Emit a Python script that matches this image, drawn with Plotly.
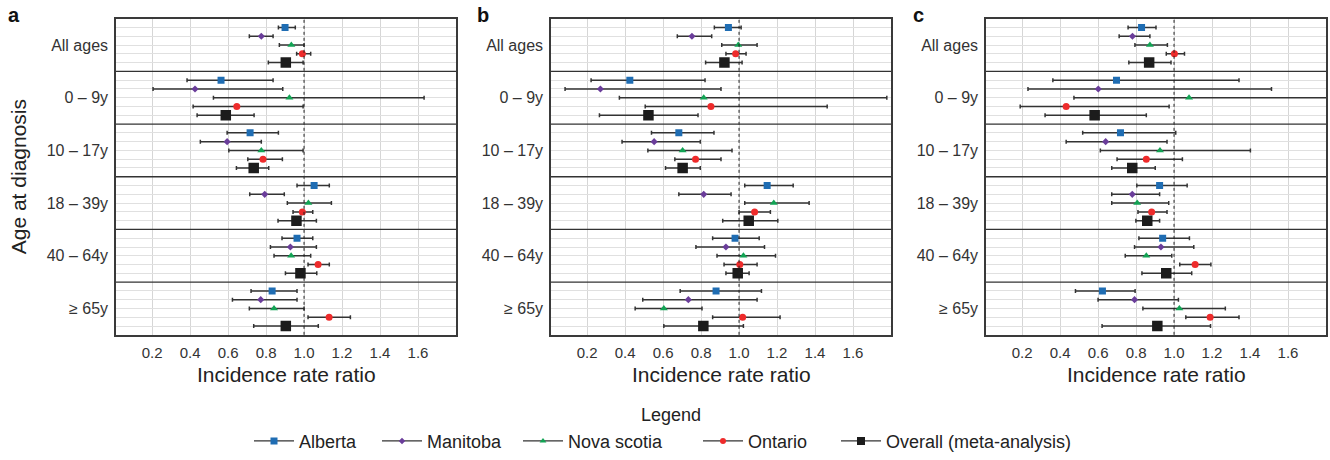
import plotly.graph_objects as go

GROUPS = ["All ages", "0 – 9y", "10 – 17y", "18 – 39y", "40 – 64y", "≥ 65y"]
SERIES = ["Alberta", "Manitoba", "Nova scotia", "Ontario", "Overall (meta-analysis)"]
X_TICKS = [0.2, 0.4, 0.6, 0.8, 1.0, 1.2, 1.4, 1.6]
PANELS = ["a", "b", "c"]

# rows = series (SERIES order), columns = age groups (GROUPS order)
A_EST = [[0.900, 0.563, 0.716, 1.053, 0.963, 0.832],
         [0.775, 0.426, 0.595, 0.793, 0.928, 0.772],
         [0.933, 0.923, 0.775, 1.023, 0.932, 0.842],
         [0.991, 0.646, 0.784, 0.991, 1.074, 1.132],
         [0.904, 0.588, 0.735, 0.960, 0.981, 0.904]]
A_LO = [[0.865, 0.384, 0.595, 0.963, 0.884, 0.721],
        [0.712, 0.205, 0.454, 0.714, 0.823, 0.623],
        [0.870, 0.523, 0.604, 0.912, 0.842, 0.712],
        [0.961, 0.416, 0.704, 0.942, 1.021, 1.021],
        [0.812, 0.437, 0.644, 0.863, 0.902, 0.735]]
A_HI = [[0.954, 0.837, 0.865, 1.133, 1.046, 0.963],
        [0.837, 0.888, 0.775, 0.896, 1.065, 0.963],
        [1.000, 1.632, 0.995, 1.144, 1.035, 1.000],
        [1.035, 0.995, 0.886, 1.046, 1.133, 1.244],
        [0.995, 0.737, 0.814, 1.065, 1.067, 1.075]]

B_EST = [[0.944, 0.425, 0.683, 1.148, 0.979, 0.879],
         [0.752, 0.270, 0.553, 0.814, 0.931, 0.733],
         [0.996, 0.814, 0.703, 1.183, 1.023, 0.604],
         [0.982, 0.852, 0.771, 1.082, 1.004, 1.019],
         [0.923, 0.523, 0.703, 1.051, 0.993, 0.812]]
B_LO = [[0.870, 0.221, 0.539, 1.030, 0.861, 0.690],
        [0.675, 0.084, 0.384, 0.683, 0.773, 0.493],
        [0.909, 0.370, 0.520, 1.030, 0.884, 0.453],
        [0.931, 0.506, 0.662, 1.000, 0.921, 0.861],
        [0.824, 0.265, 0.613, 0.914, 0.931, 0.604]]
B_HI = [[1.011, 0.821, 0.868, 1.285, 1.106, 1.118],
        [0.856, 0.905, 0.796, 0.958, 1.134, 1.095],
        [1.095, 1.778, 0.963, 1.369, 1.192, 0.805],
        [1.037, 1.464, 0.905, 1.165, 1.095, 1.216],
        [1.016, 0.784, 0.796, 1.204, 1.053, 1.023]]

C_EST = [[0.829, 0.697, 0.718, 0.924, 0.940, 0.623],
         [0.781, 0.601, 0.640, 0.780, 0.931, 0.792],
         [0.873, 1.079, 0.926, 0.806, 0.854, 1.028],
         [1.002, 0.432, 0.854, 0.882, 1.111, 1.190],
         [0.869, 0.582, 0.780, 0.859, 0.959, 0.912]]
C_LO = [[0.758, 0.362, 0.519, 0.804, 0.815, 0.481],
        [0.711, 0.231, 0.432, 0.672, 0.792, 0.600],
        [0.794, 0.473, 0.612, 0.672, 0.743, 0.836],
        [0.959, 0.190, 0.700, 0.810, 1.030, 1.062],
        [0.762, 0.321, 0.672, 0.799, 0.831, 0.621]]
C_HI = [[0.905, 1.342, 1.009, 1.069, 1.081, 0.795],
        [0.873, 1.513, 0.963, 0.924, 1.104, 1.023],
        [0.965, 1.900, 1.402, 0.972, 0.988, 1.270],
        [1.055, 0.974, 1.044, 0.963, 1.194, 1.342],
        [0.984, 0.854, 0.901, 0.924, 1.093, 1.192]]

COLORS = ["#1f6db3", "#6a3d9a", "#12a354", "#ee2b2b", "#1c1c1c"]
SYMBOLS = ["square", "diamond", "triangle-up", "circle", "square"]
SIZES = [7, 5.5, 7, 7, 10.5]
LEGEND_SIZES = [7, 5, 6, 6, 8]
LEGEND_X = [253, 381, 522, 702, 840]  # left edge of each legend entry, px

FONT = "Liberation Sans, Arial, Helvetica, sans-serif"
W, H = 1330, 460
PLOT_TOP, PLOT_BOT = 19, 340
X_DOMAINS = [(116, 456), (551, 891), (986, 1326)]
NSLOT = 6  # slots per age group (5 rows + padding)

data = [(A_EST, A_LO, A_HI), (B_EST, B_LO, B_HI), (C_EST, C_LO, C_HI)]

fig = go.Figure()

row_vals = []
row_text = []
for g, name in enumerate(GROUPS):
    for s in range(len(SERIES)):
        row_vals.append(NSLOT * g + 1 + s)
        row_text.append(name if s == 2 else "")

for p, (est, lo, hi) in enumerate(data):
    xa = "x" if p == 0 else f"x{p + 1}"
    ya = "y" if p == 0 else f"y{p + 1}"
    for s, sname in enumerate(SERIES):
        ys = [NSLOT * g + 1 + s for g in range(len(GROUPS))]
        fig.add_trace(go.Scatter(
            x=est[s], y=ys, xaxis=xa, yaxis=ya, mode="markers",
            marker=dict(symbol=SYMBOLS[s], size=SIZES[s], color=COLORS[s], line=dict(width=0)),
            error_x=dict(type="data", symmetric=False,
                         array=[h - e for h, e in zip(hi[s], est[s])],
                         arrayminus=[e - l for e, l in zip(est[s], lo[s])],
                         color="#333333", thickness=1.5, width=2),
            showlegend=False, name=sname, hoverinfo="x+name"))

# legend entries (line + marker glyph), one small legend box per entry
legend_layouts = {}
for s, sname in enumerate(SERIES):
    lname = "legend" if s == 0 else f"legend{s + 1}"
    fig.add_trace(go.Scatter(
        x=[None], y=[None], mode="lines+markers", name=sname, legend=lname,
        line=dict(color="#333333", width=1.4),
        marker=dict(symbol=SYMBOLS[s], size=LEGEND_SIZES[s], color=COLORS[s], line=dict(width=0)),
        showlegend=True))
    legend_layouts[lname] = dict(
        orientation="h", x=(LEGEND_X[s] - 4) / W, xanchor="left",
        y=1 - 448 / H, yanchor="middle",
        font=dict(size=18, color="#222222", family=FONT),
        itemwidth=40, bgcolor="rgba(0,0,0,0)")

ydom = [1 - PLOT_BOT / H, 1 - PLOT_TOP / H]
shapes = []
annotations = []
for p in range(3):
    sfx = "" if p == 0 else str(p + 1)
    x0, x1 = X_DOMAINS[p]
    fig.layout["xaxis" + sfx] = dict(
        domain=[x0 / W, x1 / W], anchor="y" + sfx, range=[0.01, 1.8],
        tickvals=X_TICKS, ticktext=[f"{v:.1f}" for v in X_TICKS],
        showgrid=True, gridcolor="#d6d6d6", gridwidth=1.2, zeroline=False,
        showline=True, mirror=True, linecolor="#3a3a3a", linewidth=1.5,
        ticks="outside", ticklen=3, tickcolor="rgba(0,0,0,0)",
        tickfont=dict(size=15, color="#333333", family=FONT),
        automargin=False, fixedrange=True)
    fig.layout["yaxis" + sfx] = dict(
        domain=ydom, anchor="x" + sfx, range=[NSLOT * len(GROUPS), 0],
        tickvals=row_vals, ticktext=row_text,
        showgrid=True, gridcolor="#e0e0e0", gridwidth=1.2, zeroline=False,
        showline=True, mirror=True, linecolor="#3a3a3a", linewidth=1.5,
        ticks="outside", ticklen=3, tickcolor="rgba(0,0,0,0)",
        tickfont=dict(size=16, color="#333333", family=FONT),
        automargin=False, fixedrange=True)
    # x axis title
    annotations.append(dict(text="Incidence rate ratio", x=(x0 + x1) / 2 / W, y=1 - 380 / H,
                            xref="paper", yref="paper", showarrow=False,
                            xanchor="center", yanchor="middle",
                            font=dict(size=21, color="#222222", family=FONT)))
    # dotted reference line at IRR = 1
    shapes.append(dict(type="line", xref="x" + sfx, yref="paper",
                       x0=1.0, x1=1.0, y0=ydom[0], y1=ydom[1], layer="above",
                       line=dict(color="#222222", width=1, dash="dot")))
    # separators between age groups
    for g in range(1, len(GROUPS)):
        shapes.append(dict(type="line", xref="paper", yref="y" + sfx,
                           x0=x0 / W, x1=x1 / W, y0=NSLOT * g, y1=NSLOT * g, layer="above",
                           line=dict(color="#333333", width=1.3)))

# y axis title (panel a only)
annotations.append(dict(text="Age at diagnosis", x=18 / W, y=1 - 180 / H,
                        xref="paper", yref="paper", showarrow=False, textangle=-90,
                        xanchor="center", yanchor="middle",
                        font=dict(size=21, color="#222222", family=FONT)))

letter_x = [14, 483, 918]
for p, letter in enumerate(PANELS):
    annotations.append(dict(text=f"<b>{letter}</b>", x=letter_x[p] / W, y=1 - 15 / H,
                            xref="paper", yref="paper", showarrow=False,
                            xanchor="center", yanchor="middle",
                            font=dict(size=20, color="#111111", family=FONT)))
annotations.append(dict(text="Legend", x=671 / W, y=1 - 421 / H, xref="paper", yref="paper",
                        showarrow=False, xanchor="center", yanchor="middle",
                        font=dict(size=18, color="#222222", family=FONT)))

fig.update_layout(
    width=W, height=H, margin=dict(l=0, r=0, t=0, b=0),
    paper_bgcolor="white", plot_bgcolor="white",
    font=dict(family=FONT, color="#222222"),
    shapes=shapes, annotations=annotations,
    **legend_layouts,
)

fig.write_html("out.html", config={"displayModeBar": False},
               post_script="document.body.style.margin='0';")
